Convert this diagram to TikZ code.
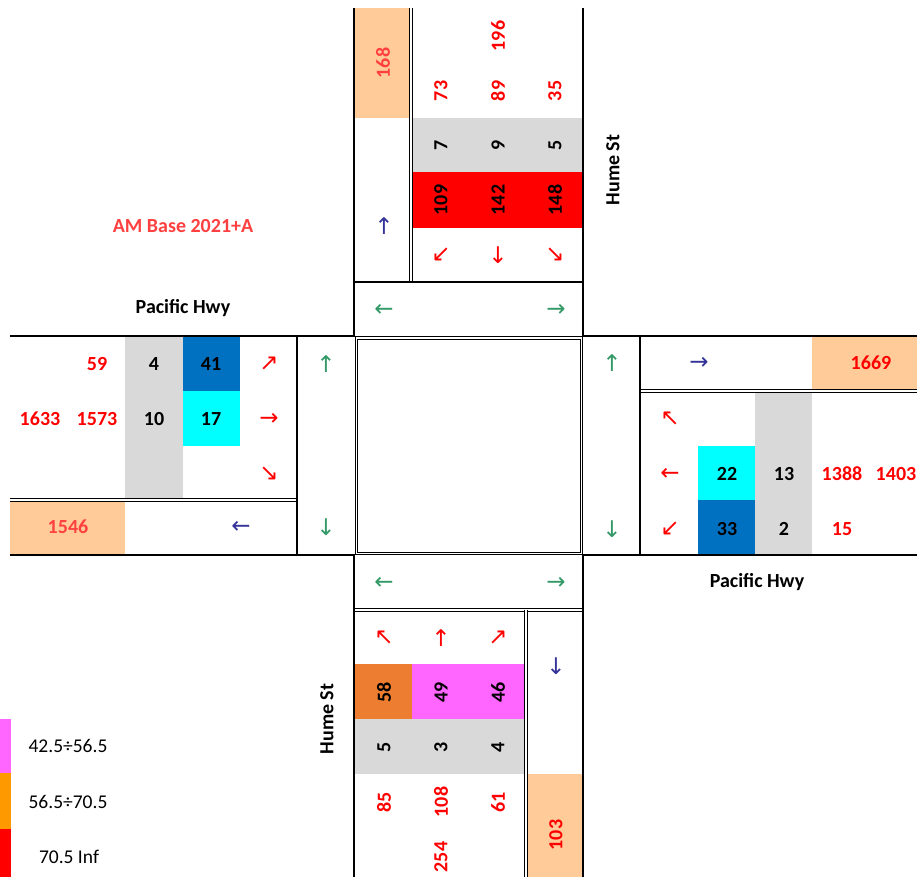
\documentclass[tikz,border=0pt]{standalone}
\usepackage{fontspec}
\setmainfont{Carlito}
\newfontfamily\arrowfont{DejaVu Sans}
\definecolor{tred}{HTML}{FF0000}
\definecolor{lred}{HTML}{FF4040}
\definecolor{peach}{HTML}{FFCC99}
\definecolor{cgray}{HTML}{D9D9D9}
\definecolor{cblue}{HTML}{0070C0}
\definecolor{ccyan}{HTML}{00FFFF}
\definecolor{corange}{HTML}{ED7D31}
\definecolor{cmag}{HTML}{FF66FF}
\definecolor{lorange}{HTML}{FF9900}
\definecolor{agreen}{HTML}{339966}
\definecolor{ablue}{HTML}{333399}
\begin{document}
\begin{tikzpicture}[x=1pt,y=-1pt,
  num/.style={font=\fontsize{20}{23}\selectfont\bfseries, inner sep=0pt},
  rnum/.style={num, text=tred},
  vnum/.style={num, rotate=90},
  vrnum/.style={rnum, rotate=90},
  lab/.style={font=\fontsize{19.5}{22}\selectfont, inner sep=0pt},
  arr/.style={font=\arrowfont\fontsize{23}{26}\selectfont, inner sep=0pt},
  rarr/.style={arr, text=tred},
  garr/.style={arr, text=agreen},
  barr/.style={arr, text=ablue},
  thickline/.style={line width=2pt},
  dblline/.style={double, double distance=1.4pt, line width=1pt}
]
\useasboundingbox (0,0) rectangle (917,877);
% ---------- fills ----------
\fill[peach] (354,8) rectangle (411,118);
\fill[cgray] (412,118) rectangle (583,172);
\fill[tred] (412,172) rectangle (583,228);
\fill[cgray] (125,336) rectangle (183,500);
\fill[cblue] (183,336) rectangle (240,391);
\fill[ccyan] (183,391) rectangle (240,446);
\fill[peach] (10,500) rectangle (125,555);
\fill[peach] (812,336) rectangle (917,391);
\fill[cgray] (755,391) rectangle (812,555);
\fill[ccyan] (698,446) rectangle (755,500);
\fill[cblue] (698,500) rectangle (755,555);
\fill[corange] (355,664) rectangle (412,719);
\fill[cmag] (412,664) rectangle (526,719);
\fill[cgray] (355,719) rectangle (526,774);
\fill[peach] (526,774) rectangle (583,877);
\fill[cmag] (0,719) rectangle (11,773);
\fill[lorange] (0,773) rectangle (11,829);
\fill[tred] (0,829) rectangle (11,877);
% ---------- lines ----------
\draw[dblline] (411,8) -- (411,282);
\draw[dblline] (356.5,338) rectangle (581.5,553.5);
\draw[dblline] (10,500) -- (297,500);
\draw[dblline] (640,391) -- (917,391);
\draw[dblline] (355,610) -- (583,610);
\draw[dblline] (526,610) -- (526,877);
\draw[thickline] (354,8) -- (354,336);
\draw[thickline] (583,8) -- (583,336);
\draw[thickline] (354,282) -- (583,282);
\draw[thickline] (10,336) -- (355,336);
\draw[thickline] (583,336) -- (917,336);
\draw[thickline] (10,555) -- (355,555);
\draw[thickline] (583,555) -- (917,555);
\draw[thickline] (297,336) -- (297,555);
\draw[thickline] (640,336) -- (640,555);
\draw[thickline] (354,555) -- (354,877);
\draw[thickline] (583,555) -- (583,877);
% ---------- top arm ----------
\node[vnum, text=lred] (t168) at (383,63) {168};
\node[vrnum] (t196) at (498,36) {196};
\node[vrnum] (t73) at (441,91) {73};
\node[vrnum] (t89) at (498,91) {89};
\node[vrnum] (t35) at (555,91) {35};
\node[vnum] (t7) at (441,145) {7};
\node[vnum] (t9) at (498,145) {9};
\node[vnum] (t5) at (555,145) {5};
\node[vnum] (t109) at (441,200) {109};
\node[vnum] (t142) at (498,200) {142};
\node[vnum] (t148) at (555,200) {148};
\node[rarr] (tsw) at (441,255) {↙};
\node[rarr] (ts) at (498,255) {↓};
\node[rarr] (tse) at (555,255) {↘};
\node[barr] (tup) at (384,226) {↑};
\node[garr] (tgl) at (384,310) {←};
\node[garr] (tgr) at (556,310) {→};
\node[num, rotate=90] (hume1) at (613,170) {Hume St};
% ---------- left arm ----------
\node[num] (pac1) at (183,308) {Pacific Hwy};
\node[num, text=lred] (title) at (183,226) {AM Base 2021+A};
\node[rnum] (l59) at (97,364) {59};
\node[num] (l4) at (154,364) {4};
\node[num] (l41) at (211,364) {41};
\node[rarr] (lne) at (269,364) {↗};
\node[rnum] (l1633) at (40,419) {1633};
\node[rnum] (l1573) at (97,419) {1573};
\node[num] (l10) at (154,419) {10};
\node[num] (l17) at (211,419) {17};
\node[rarr] (le) at (269,419) {→};
\node[rarr] (lse) at (269,474) {↘};
\node[num, text=lred] (l1546) at (68,527) {1546};
\node[barr] (lw) at (241,527) {←};
\node[garr] (lgu) at (326,364) {↑};
\node[garr] (lgd) at (326,527) {↓};
% ---------- right arm ----------
\node[garr] (rgu) at (612,363) {↑};
\node[garr] (rgd) at (612,529) {↓};
\node[barr] (re) at (699,363) {→};
\node[rnum] (r1669) at (871,363) {1669};
\node[rarr] (rnw) at (670,419) {↖};
\node[rarr] (rw) at (670,474) {←};
\node[rarr] (rsw) at (670,529) {↙};
\node[num] (r22) at (727,474) {22};
\node[num] (r13) at (784,474) {13};
\node[rnum] (r1388) at (842,474) {1388};
\node[rnum] (r1403) at (896,474) {1403};
\node[num] (r33) at (727,529) {33};
\node[num] (r2) at (784,529) {2};
\node[rnum] (r15) at (842,529) {15};
\node[num] (pac2) at (757,582) {Pacific Hwy};
% ---------- bottom arm ----------
\node[garr] (bgl) at (384,583) {←};
\node[garr] (bgr) at (556,583) {→};
\node[rarr] (bnw) at (384,638) {↖};
\node[rarr] (bn) at (441,638) {↑};
\node[rarr] (bne) at (498,638) {↗};
\node[vnum] (b58) at (384,692) {58};
\node[vnum] (b49) at (441,692) {49};
\node[vnum] (b46) at (498,692) {46};
\node[vnum] (b5) at (384,747) {5};
\node[vnum] (b3) at (441,747) {3};
\node[vnum] (b4) at (498,747) {4};
\node[vrnum] (b85) at (384,802) {85};
\node[vrnum] (b108) at (441,802) {108};
\node[vrnum] (b61) at (498,802) {61};
\node[vrnum] (b254) at (441,857) {254};
\node[barr] (bs) at (556,666) {↓};
\node[vrnum] (b103) at (556,835) {103};
\node[num, rotate=90] (hume2) at (327,719) {Hume St};
% ---------- legend ----------
\node[lab] (leg1) at (68,746) {42.5÷56.5};
\node[lab] (leg2) at (68,802) {56.5÷70.5};
\node[lab] (leg3) at (69,857) {70.5 Inf};
\end{tikzpicture}
\end{document}
